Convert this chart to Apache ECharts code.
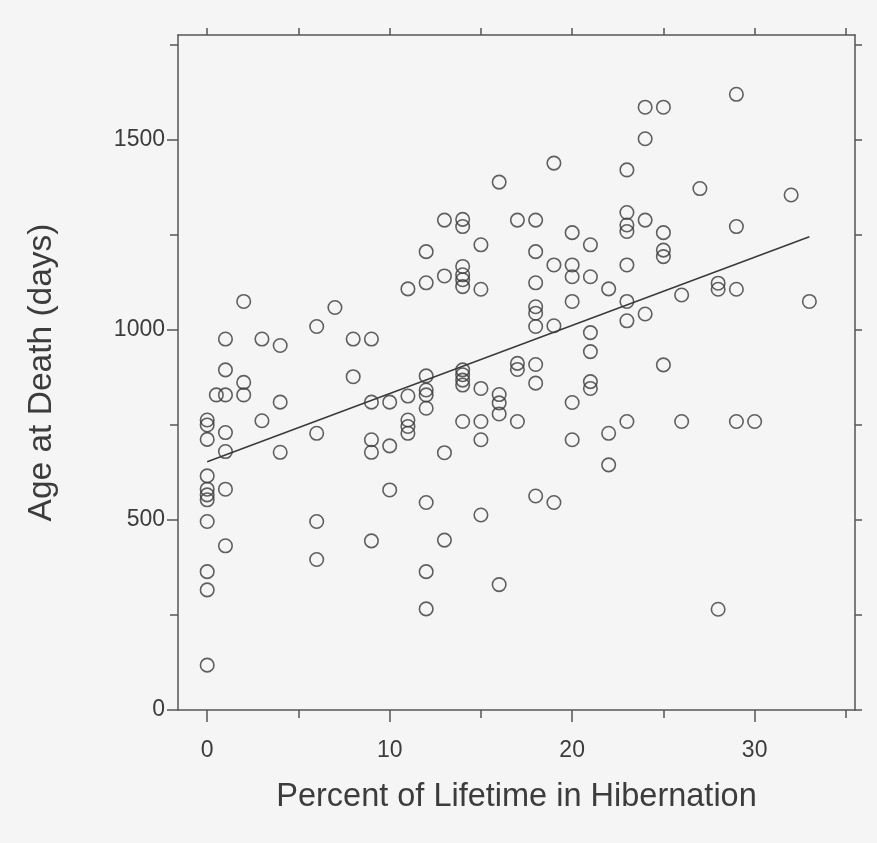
<!DOCTYPE html>
<html>
<head>
<meta charset="utf-8">
<script src="https://cdn.jsdelivr.net/npm/echarts@6/dist/echarts.min.js"></script>
<style>
  html, body { margin: 0; padding: 0; background: #f5f5f5; }
  #chart { width: 877px; height: 843px; }
</style>
</head>
<body>
<div id="chart"></div>
<script>
// percent of lifetime in hibernation (x) and age at death in days (y)
var pctHibernation = [
    0, 0, 0, 0, 0, 0, 0, 0, 0, 0, 0,
    0.5,
    1, 1, 1, 1, 1, 1, 1,
    2, 2, 2,
    3, 3,
    4, 4, 4,
    6, 6, 6, 6,
    7,
    8, 8,
    9, 9, 9, 9, 9,
    10, 10, 10,
    11, 11, 11, 11, 11,
    12, 12, 12, 12, 12, 12, 12, 12, 12,
    13, 13, 13, 13,
    14, 14, 14, 14, 14, 14, 14, 14, 14, 14, 14,
    15, 15, 15, 15, 15, 15,
    16, 16, 16, 16, 16,
    17, 17, 17, 17,
    18, 18, 18, 18, 18, 18, 18, 18, 18,
    19, 19, 19, 19,
    20, 20, 20, 20, 20, 20,
    21, 21, 21, 21, 21, 21,
    22, 22, 22,
    23, 23, 23, 23, 23, 23, 23, 23,
    24, 24, 24, 24,
    25, 25, 25, 25, 25,
    26, 26,
    27,
    28, 28, 28,
    29, 29, 29, 29,
    30,
    32,
    33
];
var ageAtDeath = [
    763, 750, 712, 616, 581, 566, 553, 496, 364, 316, 118,
    829,
    976, 895, 829, 730, 680, 581, 432,
    1075, 862, 829,
    976, 761,
    959, 810, 678,
    1009, 728, 496, 396,
    1059,
    976, 877,
    976, 810, 711, 678, 445,
    810, 695, 579,
    1108, 826, 763, 746, 728,
    1206, 1124, 879, 842, 829, 794, 546, 364, 266,
    1289, 1142, 677, 447,
    1291, 1272, 1167, 1145, 1132, 1114, 895, 882, 868, 855, 759,
    1224, 1107, 846, 759, 711, 513,
    1389, 830, 808, 779, 330,
    1289, 912, 896, 759,
    1289, 1206, 1124, 1061, 1044, 1009, 909, 860, 563,
    1439, 1171, 1011, 546,
    1256, 1171, 1140, 1075, 809, 711,
    1224, 1140, 993, 943, 864, 846,
    1108, 728, 645,
    1421, 1309, 1276, 1259, 1171, 1075, 1024, 759,
    1586, 1503, 1289, 1042,
    1586, 1256, 1210, 1193, 908,
    1092, 759,
    1372,
    1123, 1107, 265,
    1620, 1272, 1107, 759,
    759,
    1355,
    1075
];
// fitted line, end points
var fitX = [0, 33];
var fitY = [653, 1245];

var xLabelTicks = [0, 10, 20, 30];
var xMinorTicks = [5, 15, 25, 35];
var xAllTicks = [0, 5, 10, 15, 20, 25, 30, 35];
var yLabelTicks = [0, 500, 1000, 1500];
var yMinorTicks = [250, 750, 1250, 1750];
var yAllTicks = [0, 250, 500, 750, 1000, 1250, 1500, 1750];

function initChart(){
    var myChart = echarts.init(document.getElementById('chart'));

    var points = pctHibernation.map(function(x, i){ return [x, ageAtDeath[i]]; });
    var fitLine = fitX.map(function(x, i){ return [x, fitY[i]]; });

    var axisColor = '#555';
    var textColor = '#3c3c3c';
    var xRange = {min: -1.6, max: 35.5};
    var yRange = {min: 0, max: 1776};

    var option = {
        backgroundColor: '#f5f5f5',
        animation: false,
        grid: {left: 178, right: 22, top: 35, bottom: 133},
        xAxis: [
            {   // bottom axis with labels and long ticks
                type: 'value', position: 'bottom', min: xRange.min, max: xRange.max,
                name: 'Percent of Lifetime in Hibernation',
                nameLocation: 'middle', nameGap: 71,
                nameTextStyle: {fontFamily: 'Liberation Sans', fontSize: 32.5, color: textColor},
                axisLine: {show: true, onZero: false, lineStyle: {color: axisColor, width: 1.5}},
                axisTick: {show: true, customValues: xLabelTicks, length: 12, lineStyle: {color: axisColor, width: 1.5}},
                axisLabel: {customValues: xLabelTicks, margin: 29, fontFamily: 'Liberation Sans', fontSize: 23, color: textColor},
                splitLine: {show: false}
            },
            {   // bottom minor ticks
                type: 'value', position: 'bottom', min: xRange.min, max: xRange.max,
                axisLine: {show: false, onZero: false},
                axisTick: {show: true, customValues: xMinorTicks, length: 8, lineStyle: {color: axisColor, width: 1.5}},
                axisLabel: {show: false},
                splitLine: {show: false}
            },
            {   // top frame
                type: 'value', position: 'top', min: xRange.min, max: xRange.max,
                axisLine: {show: true, onZero: false, lineStyle: {color: axisColor, width: 1.5}},
                axisTick: {show: true, customValues: xAllTicks, length: 7, lineStyle: {color: axisColor, width: 1.5}},
                axisLabel: {show: false},
                splitLine: {show: false}
            }
        ],
        yAxis: [
            {
                type: 'value', position: 'left', min: yRange.min, max: yRange.max,
                name: 'Age at Death (days)',
                nameLocation: 'middle', nameGap: 119, nameRotate: 90,
                nameTextStyle: {fontFamily: 'Liberation Sans', fontSize: 33.5, color: textColor},
                axisLine: {show: true, onZero: false, lineStyle: {color: axisColor, width: 1.5}},
                axisTick: {show: true, customValues: yLabelTicks, length: 11, lineStyle: {color: axisColor, width: 1.5}},
                axisLabel: {
                    customValues: yLabelTicks, margin: 13, fontFamily: 'Liberation Sans', fontSize: 23, color: textColor,
                    formatter: function(v){ return String(v); }
                },
                splitLine: {show: false}
            },
            {
                type: 'value', position: 'left', min: yRange.min, max: yRange.max,
                axisLine: {show: false, onZero: false},
                axisTick: {show: true, customValues: yMinorTicks, length: 8, lineStyle: {color: axisColor, width: 1.5}},
                axisLabel: {show: false},
                splitLine: {show: false}
            },
            {   // right frame
                type: 'value', position: 'right', min: yRange.min, max: yRange.max,
                axisLine: {show: true, onZero: false, lineStyle: {color: axisColor, width: 1.5}},
                axisTick: {show: true, customValues: yAllTicks, length: 7, lineStyle: {color: axisColor, width: 1.5}},
                axisLabel: {show: false},
                splitLine: {show: false}
            }
        ],
        series: [
            {
                type: 'scatter',
                data: points,
                symbol: 'circle',
                symbolSize: 13.5,
                itemStyle: {color: 'rgba(0,0,0,0)', borderColor: '#3a3a3a', borderWidth: 1.6}
            },
            {
                type: 'line',
                data: fitLine,
                symbol: 'none',
                lineStyle: {color: '#3a3a3a', width: 1.5}
            }
        ]
    };

    myChart.setOption(option);
}
initChart();
</script>
</body>
</html>
